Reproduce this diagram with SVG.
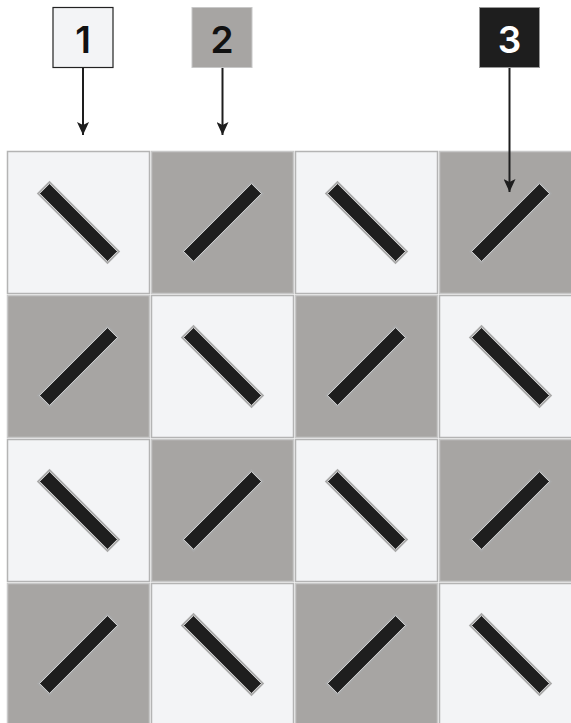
<svg xmlns="http://www.w3.org/2000/svg" width="571" height="723" viewBox="0 0 571 723">
<style>
.lt{fill:#f3f4f6;stroke:#b4b4b4;stroke-width:1.5}
.dk{fill:#a7a5a3;stroke:#c8c8c8;stroke-width:1.5}
.bar{fill:#1e1e1e;stroke:#a9a9a9;stroke-width:2}
.bari{fill:none;stroke:#e8e8e8;stroke-width:0.8}
.lbl{font-family:Inter,"Liberation Sans",sans-serif;font-weight:600;font-size:37px;text-anchor:middle}
.con{stroke:#1e1e1e;stroke-width:2;fill:none}
</style>
<defs>
<marker id="ah" viewBox="0 0 13 12" refX="13" refY="6" markerWidth="13" markerHeight="12" markerUnits="userSpaceOnUse" orient="auto">
<path d="M0,0 L13,6 L0,12 L3,6 z" fill="#1e1e1e"/>
</marker>
<g id="back"><rect x="-49" y="-8" width="98" height="16" class="bar" transform="rotate(45)"/><rect x="-48" y="-7" width="96" height="14" class="bari" transform="rotate(45)"/></g>
<g id="fwd"><rect x="-49" y="-8" width="98" height="16" class="bar" transform="rotate(-45)"/><rect x="-48" y="-7" width="96" height="14" class="bari" transform="rotate(-45)"/></g>
</defs>
<g id="grid">
<g id="r1c1"><rect x="7.5" y="151.5" width="142" height="142" class="lt"/><use href="#back" x="78.5" y="222.5"/></g>
<g id="r1c2"><rect x="151.5" y="151.5" width="142" height="142" class="dk"/><use href="#fwd" x="222.5" y="222.5"/></g>
<g id="r1c3"><rect x="295.5" y="151.5" width="142" height="142" class="lt"/><use href="#back" x="366.5" y="222.5"/></g>
<g id="r1c4"><rect x="439.5" y="151.5" width="142" height="142" class="dk"/><use href="#fwd" x="510.5" y="222.5"/></g>
<g id="r2c1"><rect x="7.5" y="295.5" width="142" height="142" class="dk"/><use href="#fwd" x="78.5" y="366.5"/></g>
<g id="r2c2"><rect x="151.5" y="295.5" width="142" height="142" class="lt"/><use href="#back" x="222.5" y="366.5"/></g>
<g id="r2c3"><rect x="295.5" y="295.5" width="142" height="142" class="dk"/><use href="#fwd" x="366.5" y="366.5"/></g>
<g id="r2c4"><rect x="439.5" y="295.5" width="142" height="142" class="lt"/><use href="#back" x="510.5" y="366.5"/></g>
<g id="r3c1"><rect x="7.5" y="439.5" width="142" height="142" class="lt"/><use href="#back" x="78.5" y="510.5"/></g>
<g id="r3c2"><rect x="151.5" y="439.5" width="142" height="142" class="dk"/><use href="#fwd" x="222.5" y="510.5"/></g>
<g id="r3c3"><rect x="295.5" y="439.5" width="142" height="142" class="lt"/><use href="#back" x="366.5" y="510.5"/></g>
<g id="r3c4"><rect x="439.5" y="439.5" width="142" height="142" class="dk"/><use href="#fwd" x="510.5" y="510.5"/></g>
<g id="r4c1"><rect x="7.5" y="583.5" width="142" height="142" class="dk"/><use href="#fwd" x="78.5" y="654.5"/></g>
<g id="r4c2"><rect x="151.5" y="583.5" width="142" height="142" class="lt"/><use href="#back" x="222.5" y="654.5"/></g>
<g id="r4c3"><rect x="295.5" y="583.5" width="142" height="142" class="dk"/><use href="#fwd" x="366.5" y="654.5"/></g>
<g id="r4c4"><rect x="439.5" y="583.5" width="142" height="142" class="lt"/><use href="#back" x="510.5" y="654.5"/></g>
</g>
<g id="label1"><rect x="53" y="7.5" width="60" height="60" fill="#f3f4f6" stroke="#222" stroke-width="1.2"/><text x="83" y="52.5" class="lbl" fill="#111">1</text></g>
<g id="label2"><rect x="192" y="7.5" width="60" height="60" fill="#a7a5a3" stroke="#c8c8c8" stroke-width="1"/><text x="222" y="52.5" class="lbl" fill="#111">2</text></g>
<g id="label3"><rect x="479.5" y="7.5" width="60" height="60" fill="#1e1e1e" stroke="#999" stroke-width="1"/><text x="509.5" y="52.5" class="lbl" fill="#fff">3</text></g>
<g id="connectors">
<line x1="83" y1="68" x2="83" y2="135" class="con" marker-end="url(#ah)"/>
<line x1="222.5" y1="68" x2="222.5" y2="135" class="con" marker-end="url(#ah)"/>
<line x1="509.5" y1="68" x2="509.5" y2="192" class="con" marker-end="url(#ah)"/>
</g>
</svg>
